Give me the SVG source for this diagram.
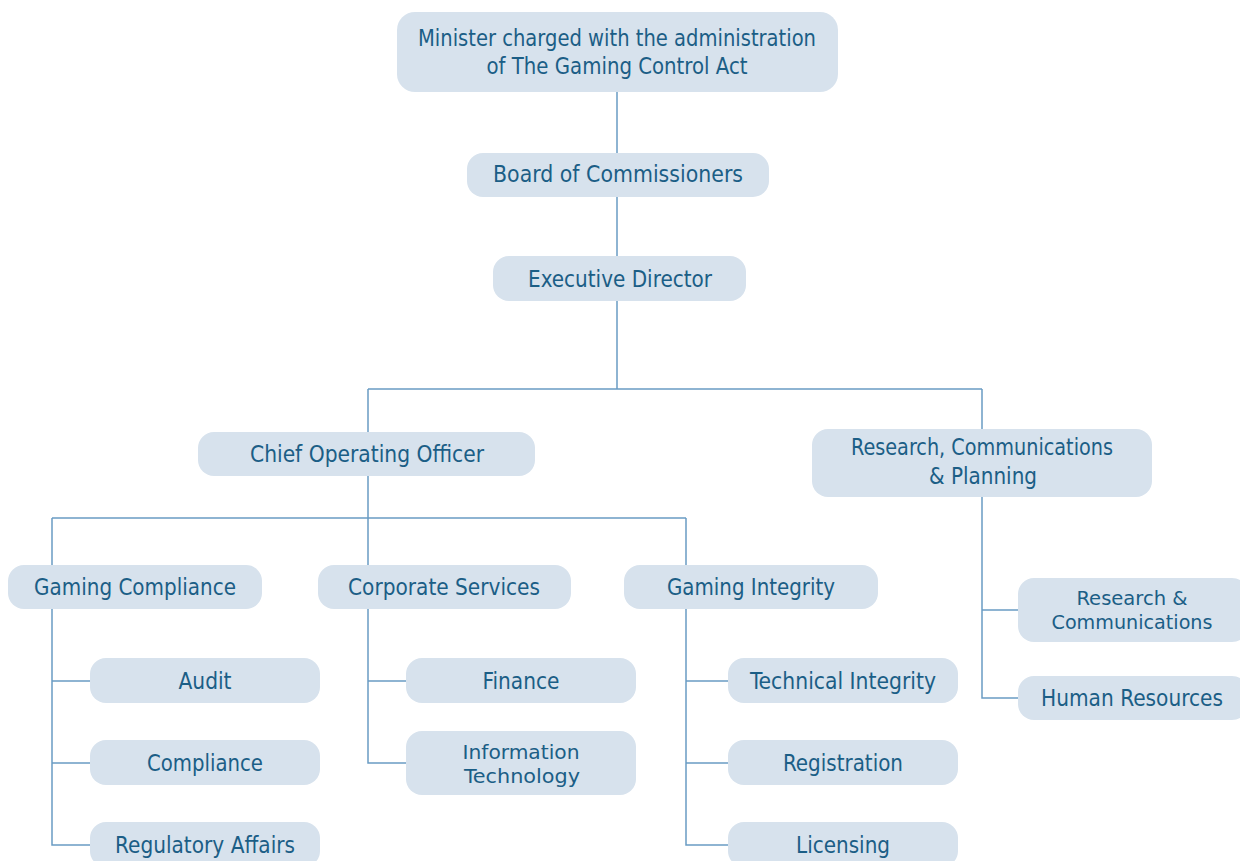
<svg xmlns="http://www.w3.org/2000/svg" width="1240" height="861" viewBox="0 0 1240 861">
  <style>
    .box { fill: #d7e2ed; }
    .lbl { font-family: "DejaVu Sans Condensed", "DejaVu Sans", sans-serif; font-size: 23px; fill: #1b5e86; text-anchor: middle; }
    .tight { font-size: 20px; }
    .link { fill: none; stroke: #6a9cc4; stroke-width: 1.5; }
  </style>
  <rect width="1240" height="861" fill="#ffffff"/>

  <!-- reporting lines -->
  <g id="connectors">
    <path class="link" d="M617 92 V153 M617 197 V256 M617 301 V389 M368 389 H982 M368 389 V432 M982 389 V429"/>
    <path class="link" d="M368 476 V518 M52 518 H686 M52 518 V565 M368 518 V565 M686 518 V565"/>
    <path class="link" d="M52 609 V845 H90 M52 681 H90 M52 763 H90"/>
    <path class="link" d="M368 609 V763 H406 M368 681 H406"/>
    <path class="link" d="M686 609 V845 H728 M686 681 H728 M686 763 H728"/>
    <path class="link" d="M982 497 V698 H1018 M982 610 H1018"/>
  </g>

  <g id="minister">
    <rect class="box" x="397" y="12" width="441" height="80" rx="18"/>
    <text class="lbl" x="617" y="46" textLength="398" lengthAdjust="spacingAndGlyphs">Minister charged with the administration</text>
    <text class="lbl" x="617" y="74" textLength="261" lengthAdjust="spacingAndGlyphs">of The Gaming Control Act</text>
  </g>
  <g id="board">
    <rect class="box" x="467" y="153" width="302" height="44" rx="16"/>
    <text class="lbl" x="618" y="182" textLength="250" lengthAdjust="spacingAndGlyphs">Board of Commissioners</text>
  </g>
  <g id="executive-director">
    <rect class="box" x="493" y="256" width="253" height="45" rx="16"/>
    <text class="lbl" x="620" y="287" textLength="184" lengthAdjust="spacingAndGlyphs">Executive Director</text>
  </g>
  <g id="coo">
    <rect class="box" x="198" y="432" width="337" height="44" rx="16"/>
    <text class="lbl" x="367" y="462" textLength="234" lengthAdjust="spacingAndGlyphs">Chief Operating Officer</text>
  </g>
  <g id="rcp">
    <rect class="box" x="812" y="429" width="340" height="68" rx="16"/>
    <text class="lbl" x="982" y="455" textLength="262" lengthAdjust="spacingAndGlyphs">Research, Communications</text>
    <text class="lbl" x="983" y="484" textLength="108" lengthAdjust="spacingAndGlyphs">&amp; Planning</text>
  </g>
  <g id="gaming-compliance">
    <rect class="box" x="8" y="565" width="254" height="44" rx="16"/>
    <text class="lbl" x="135" y="595" textLength="202" lengthAdjust="spacingAndGlyphs">Gaming Compliance</text>
  </g>
  <g id="corporate-services">
    <rect class="box" x="318" y="565" width="253" height="44" rx="16"/>
    <text class="lbl" x="444" y="595" textLength="192" lengthAdjust="spacingAndGlyphs">Corporate Services</text>
  </g>
  <g id="gaming-integrity">
    <rect class="box" x="624" y="565" width="254" height="44" rx="16"/>
    <text class="lbl" x="751" y="595" textLength="168" lengthAdjust="spacingAndGlyphs">Gaming Integrity</text>
  </g>
  <g id="audit">
    <rect class="box" x="90" y="658" width="230" height="45" rx="16"/>
    <text class="lbl" x="205" y="689" textLength="53" lengthAdjust="spacingAndGlyphs">Audit</text>
  </g>
  <g id="compliance">
    <rect class="box" x="90" y="740" width="230" height="45" rx="16"/>
    <text class="lbl" x="205" y="771" textLength="116" lengthAdjust="spacingAndGlyphs">Compliance</text>
  </g>
  <g id="regulatory-affairs">
    <rect class="box" x="90" y="822" width="230" height="45" rx="16"/>
    <text class="lbl" x="205" y="853" textLength="180" lengthAdjust="spacingAndGlyphs">Regulatory Affairs</text>
  </g>
  <g id="finance">
    <rect class="box" x="406" y="658" width="230" height="45" rx="16"/>
    <text class="lbl" x="521" y="689" textLength="77" lengthAdjust="spacingAndGlyphs">Finance</text>
  </g>
  <g id="information-technology">
    <rect class="box" x="406" y="731" width="230" height="64" rx="16"/>
    <text class="lbl tight" x="521" y="759" textLength="117" lengthAdjust="spacingAndGlyphs">Information</text>
    <text class="lbl tight" x="522" y="783" textLength="116" lengthAdjust="spacingAndGlyphs">Technology</text>
  </g>
  <g id="technical-integrity">
    <rect class="box" x="728" y="658" width="230" height="45" rx="16"/>
    <text class="lbl" x="843" y="689" textLength="186" lengthAdjust="spacingAndGlyphs">Technical Integrity</text>
  </g>
  <g id="registration">
    <rect class="box" x="728" y="740" width="230" height="45" rx="16"/>
    <text class="lbl" x="843" y="771" textLength="120" lengthAdjust="spacingAndGlyphs">Registration</text>
  </g>
  <g id="licensing">
    <rect class="box" x="728" y="822" width="230" height="45" rx="16"/>
    <text class="lbl" x="843" y="853" textLength="94" lengthAdjust="spacingAndGlyphs">Licensing</text>
  </g>
  <g id="research-communications">
    <rect class="box" x="1018" y="578" width="230" height="64" rx="16"/>
    <text class="lbl tight" x="1132" y="605" textLength="111" lengthAdjust="spacingAndGlyphs">Research &amp;</text>
    <text class="lbl tight" x="1132" y="629" textLength="161" lengthAdjust="spacingAndGlyphs">Communications</text>
  </g>
  <g id="human-resources">
    <rect class="box" x="1018" y="676" width="230" height="44" rx="16"/>
    <text class="lbl" x="1132" y="706" textLength="182" lengthAdjust="spacingAndGlyphs">Human Resources</text>
  </g>
</svg>
